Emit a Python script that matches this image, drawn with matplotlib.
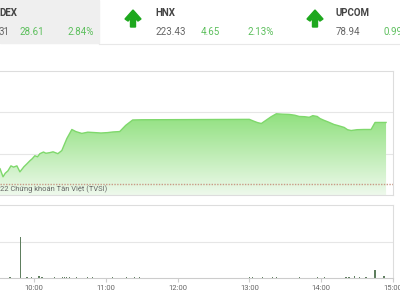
import numpy as np
import matplotlib
matplotlib.use("Agg")
import matplotlib.pyplot as plt
from matplotlib.colors import LinearSegmentedColormap
from matplotlib.patches import Rectangle, Polygon

plt.rcParams['font.family'] = ['Roboto', 'DejaVu Sans']

# minutes since 9:00 -> VN-Index
gio = [31.7, 34.2, 36.0, 38.3, 40.8, 43.0, 45.8, 48.3, 51.7, 54.0, 56.7, 58.5, 60.8, 63.0,
       65.0, 68.0, 70.0, 73.3, 76.0, 80.0, 83.3, 87.5, 91.7, 95.0, 100.0, 105.0, 110.8,
       116.0, 121.7, 126.0, 131.7, 136.7, 142.5, 150.0, 240.0, 244.2, 247.0, 250.0,
       255.0, 258.0, 262.5, 268.0, 273.3, 278.0, 281.7, 286.0, 290.0, 293.0, 296.7,
       299.0, 302.5, 306.0, 310.8, 314.0, 319.2, 322.0, 325.0, 330.0, 335.8, 341.7,
       345.0, 354.2]
diem = [1012.7, 1008.8, 1010.5, 1011.7, 1014.1, 1013.5, 1014.1, 1011.2, 1013.7, 1015.0,
        1016.6, 1017.5, 1019.0, 1018.5, 1020.0, 1020.8, 1020.2, 1020.5, 1020.9, 1020.0,
        1021.5, 1027.3, 1031.7, 1030.7, 1029.8, 1030.4, 1030.2, 1030.0, 1030.2, 1030.5,
        1030.7, 1033.7, 1036.3, 1036.4, 1036.6, 1035.6, 1035.0, 1034.6, 1036.6, 1037.8,
        1039.3, 1039.1, 1039.0, 1038.6, 1038.0, 1037.9, 1037.6, 1038.4, 1038.0, 1037.0,
        1036.1, 1035.3, 1034.1, 1033.6, 1032.7, 1031.6, 1031.2, 1031.6, 1031.7, 1031.7,
        1035.1, 1035.1]
tham_chieu = 1005.4

# khoi luong
gio_kl = [40.0, 48.9, 54.2, 58.3, 64.2, 66.7, 77.5, 84.2, 85.8, 87.5, 90.0, 95.8, 105.0,
          109.2, 125.8, 137.5, 144.2, 148.3, 240.0, 242.5, 250.8, 259.2, 262.5, 281.7,
          296.7, 302.5, 320.8, 323.3, 327.5, 331.7, 337.5, 345.0, 352.5]
kl = [0.02, 1.11, 0.02, 0.03, 0.05, 0.03, 0.03, 0.04, 0.03, 0.03, 0.02, 0.02, 0.02,
      0.02, 0.02, 0.02, 0.02, 0.02, 0.03, 0.02, 0.02, 0.03, 0.04, 0.02,
      0.02, 0.02, 0.03, 0.03, 0.05, 0.03, 0.04, 0.22, 0.06]

nhan_gio = ["10:00", "11:00", "12:00", "13:00", "14:00", "15:00"]
vi_tri_gio = [60, 120, 180, 240, 300, 360]

fig = plt.figure(figsize=(4, 3), dpi=100)
W, H = 400, 300

def khung(x0, y0, x1, y1):
    return [x0 / W, 1 - y1 / H, (x1 - x0) / W, (y1 - y0) / H]

vien = '#dddddd'

# bieu do gia
ax = fig.add_axes(khung(0, 71, 393, 195))
ax.set_xlim(31.67, 360)
ax.set_ylim(1000, 1060)
fill = ax.fill_between(gio, diem, 1000, facecolor='none', edgecolor='none')
cmap = LinearSegmentedColormap.from_list('xanh', ['#eef9ec', '#8ee07c'])
grad = np.linspace(0, 1, 256).reshape(-1, 1)
im = ax.imshow(grad, cmap=cmap, origin='lower', aspect='auto',
               extent=[31.67, 360, 1000, 1040], zorder=1)
im.set_clip_path(fill.get_paths()[0], transform=ax.transData)
ax.plot(gio, diem, color='#7fd86c', lw=1.0, zorder=2)
ax.axhline(tham_chieu, color='#c99a86', lw=1.0, ls=(0, (1, 1)), zorder=3)
ax.set_yticks([1020, 1040])
ax.grid(axis='y', color='#e6e6e6', lw=0.8)
ax.set_axisbelow(True)
ax.set_xticks([])
ax.tick_params(left=False, labelleft=False)
for s in ['top', 'right', 'bottom']:
    ax.spines[s].set_color(vien)
    ax.spines[s].set_linewidth(0.8)
ax.spines['left'].set_visible(False)

# bieu do khoi luong
ax2 = fig.add_axes(khung(0, 205, 393, 278))
ax2.bar(gio_kl, kl, width=1.0, color='#5e7e5e', zorder=2)
ax2.set_xlim(31.67, 360)
ax2.set_ylim(0, 2)
ax2.set_yticks([1])
ax2.grid(axis='y', color='#e6e6e6', lw=0.8)
ax2.set_axisbelow(True)
ax2.tick_params(left=False, labelleft=False)
ax2.set_xticks(vi_tri_gio)
ax2.set_xticklabels(nhan_gio)
ax2.tick_params(axis='x', length=3, color='#cccccc', labelsize=5.5,
                labelcolor='#666666', pad=2)
for s in ['top', 'right', 'bottom']:
    ax2.spines[s].set_color(vien)
    ax2.spines[s].set_linewidth(0.8)
ax2.spines['bottom'].set_color('#cccccc')
ax2.spines['left'].set_visible(False)

# phan dau trang
top = fig.add_axes([0, 0, 1, 1])
top.set_xlim(0, W)
top.set_ylim(H, 0)
top.axis('off')
top.patch.set_visible(False)
top.add_patch(Rectangle((0, 0), 99, 43, color='#efefef', zorder=0))
top.plot([99, 400], [43.5, 43.5], color='#e8e8e8', lw=0.8)

def mui_ten(cx, cy):
    top.add_patch(Polygon([(cx - 8, cy + 2), (cx, cy - 7), (cx + 8, cy + 2),
                           (cx + 5, cy + 4), (cx + 2.5, cy + 1.5), (cx + 2.5, cy + 10),
                           (cx - 2.5, cy + 10), (cx - 2.5, cy + 1.5), (cx - 5, cy + 4)],
                          closed=True, color='#1ea81e'))

mui_ten(133, 17)
mui_ten(315, 17)

xam, xanh, ten = '#666666', '#5cbf5c', '#444444'
fs = 7
top.text(-1, 13, "DEX", fontsize=fs, color=ten, fontweight='bold', va='center')
top.text(-1, 32, "31", fontsize=fs, color=xam, va='center')
top.text(20, 32, "28.61", fontsize=fs, color=xanh, va='center')
top.text(67, 32, "2.84%", fontsize=fs, color=xanh, va='center')
top.text(155, 13, "HNX", fontsize=fs, color=ten, fontweight='bold', va='center')
top.text(155, 32, "223.43", fontsize=fs, color=xam, va='center')
top.text(201, 32, "4.65", fontsize=fs, color=xanh, va='center')
top.text(248, 32, "2.13%", fontsize=fs, color=xanh, va='center')
top.text(336, 13, "UPCOM", fontsize=fs, color=ten, fontweight='bold', va='center')
top.text(336, 32, "78.94", fontsize=fs, color=xam, va='center')
top.text(383, 32, "0.99", fontsize=fs, color=xanh, va='center')

top.text(0, 189, "22 Chứng khoán Tân Việt (TVSI)", fontsize=5.4, color='#666666',
         va='center')

fig.savefig('out.png', dpi=100)
